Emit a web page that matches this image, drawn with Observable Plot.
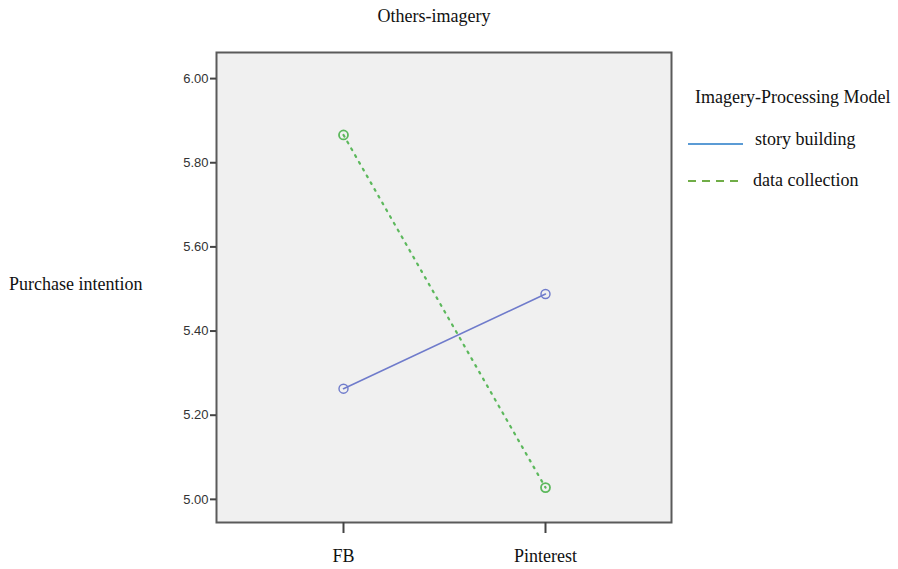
<!DOCTYPE html>
<html>
<head>
<meta charset="utf-8">
<script src="https://cdn.jsdelivr.net/npm/d3@7"></script>
<script src="https://cdn.jsdelivr.net/npm/@observablehq/plot@0.6"></script>
<style>
  body { margin: 0; background: #fff; }
  #wrap { position: relative; width: 898px; height: 569px; font-family: "Liberation Serif", "Times New Roman", serif; color: #111; }
  .t { position: absolute; font-size: 18px; line-height: 22px; white-space: nowrap; }
</style>
</head>
<body>
<div id="wrap"></div>
<script>
const platforms = ["FB", "Pinterest"];
const seriesNames = ["story building", "data collection"];
const storyBuilding = [5.263, 5.488];
const dataCollection = [5.866, 5.028];
const yTicks = [5.0, 5.2, 5.4, 5.6, 5.8, 6.0];
const colors = ["#6f7bcb", "#5cb85c"];
const legendColors = ["#5b9bd5", "#70ad47"];

const rows = [];
platforms.forEach((p, i) => {
  rows.push({platform: p, series: seriesNames[0], value: storyBuilding[i]});
  rows.push({platform: p, series: seriesNames[1], value: dataCollection[i]});
});
const sb = rows.filter(d => d.series === seriesNames[0]);
const dc = rows.filter(d => d.series === seriesNames[1]);

const chart = Plot.plot({
  width: 898,
  height: 569,
  marginLeft: 216,
  marginRight: 227,
  marginTop: 52,
  marginBottom: 47,
  style: {background: "transparent", overflow: "visible"},
  x: {type: "point", domain: platforms, padding: 0.626},
  y: {domain: [4.945, 6.062]},
  marks: [
    Plot.frame({fill: "#f0f0f0", stroke: "none"}),
    Plot.line(sb, {x: "platform", y: "value", stroke: colors[0], strokeWidth: 1.6}),
    Plot.line(dc, {x: "platform", y: "value", stroke: colors[1], strokeWidth: 2.2, strokeDasharray: "1.8,6"}),
    Plot.dot(sb, {x: "platform", y: "value", r: 4.5, stroke: colors[0], strokeWidth: 1.4, fill: "none"}),
    Plot.dot(dc, {x: "platform", y: "value", r: 4.5, stroke: colors[1], strokeWidth: 1.8, fill: "none"}),
    Plot.frame({stroke: "#5a5a5a", strokeWidth: 2}),
    Plot.axisY({ticks: yTicks, tickFormat: d3.format(".2f"), tickSize: 6, tickPadding: 2, stroke: "#444", strokeWidth: 2,
      fill: "#333", fontSize: 13, fontFamily: "Liberation Sans, Arial, sans-serif", label: null}),
    Plot.axisX({tickSize: 11, tickPadding: 16, stroke: "#444", strokeWidth: 2, fill: "#111", fontSize: 18,
      fontFamily: "Liberation Serif, Times New Roman, serif", label: null})
  ]
});

const wrap = document.getElementById("wrap");
wrap.appendChild(chart);
chart.style.position = "absolute";
chart.style.left = "0px";
chart.style.top = "0px";

function addText(txt, left, top, extra) {
  const d = document.createElement("div");
  d.className = "t";
  d.textContent = txt;
  d.style.left = left + "px";
  d.style.top = top + "px";
  if (extra) Object.assign(d.style, extra);
  wrap.appendChild(d);
  return d;
}
addText("Others-imagery", 434, 5, {transform: "translateX(-50%)"});
addText("Purchase intention", 9, 273);
addText("Imagery-Processing Model", 695, 86);
addText(seriesNames[0], 755, 128);
addText(seriesNames[1], 753, 169);

const ns = "http://www.w3.org/2000/svg";
const leg = document.createElementNS(ns, "svg");
leg.setAttribute("width", 80);
leg.setAttribute("height", 60);
leg.style.position = "absolute";
leg.style.left = "680px";
leg.style.top = "130px";
[[0, 14, "none"], [1, 51, "8,6"]].forEach(([i, y, dash]) => {
  const l = document.createElementNS(ns, "line");
  l.setAttribute("x1", 8); l.setAttribute("x2", 63);
  l.setAttribute("y1", y); l.setAttribute("y2", y);
  l.setAttribute("stroke", legendColors[i]);
  l.setAttribute("stroke-width", 2);
  if (dash !== "none") l.setAttribute("stroke-dasharray", dash);
  leg.appendChild(l);
});
wrap.appendChild(leg);
</script>
</body>
</html>
